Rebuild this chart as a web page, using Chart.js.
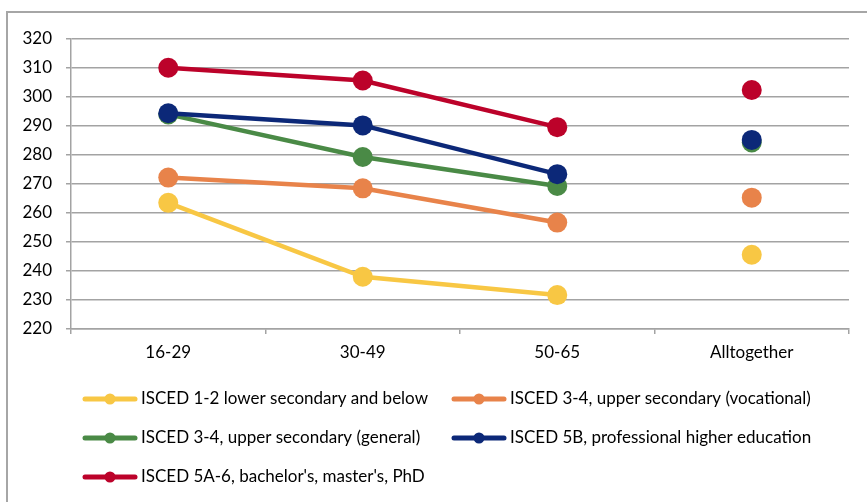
<!DOCTYPE html>
<html>
<head>
<meta charset="utf-8">
<script src="https://cdn.jsdelivr.net/npm/chart.js@4/dist/chart.umd.min.js"></script>
<style>
  html, body { margin: 0; padding: 0; background: #fff; }
  #wrap { position: relative; width: 867px; height: 502px; }
</style>
</head>
<body>
<div id="wrap"><canvas id="c" width="867" height="502"></canvas></div>
<script>
// Age groups and overall
const categories = ['16-29', '30-49', '50-65', 'Alltogether'];

// Scores by education level
const isced12 = [263.5, 238.0, 231.7, 245.6];
const isced34voc = [272.2, 268.5, 256.7, 265.3];
const isced34gen = [294.0, 279.3, 269.3, 284.3];
const isced5b = [294.4, 290.2, 273.4, 285.2];
const isced5a6 = [310.1, 305.7, 289.6, 302.4];

const yTicks = [220, 230, 240, 250, 260, 270, 280, 290, 300, 310, 320];

const seriesLabels = [
  'ISCED 1-2 lower secondary and below',
  'ISCED 3-4, upper secondary (vocational)',
  'ISCED 3-4, upper secondary (general)',
  'ISCED 5B, professional higher education',
  "ISCED 5A-6, bachelor's, master's, PhD"
];
const seriesColors = ['#F8C744', '#E8834A', '#4A8A46', '#0C2878', '#BC022A'];
const seriesValues = [isced12, isced34voc, isced34gen, isced5b, isced5a6];

const FONT = 'Lato, "Open Sans", "Liberation Sans", sans-serif';
const GRID = '#a3a3a3';

const datasets = seriesValues.map((vals, i) => ({
  label: seriesLabels[i],
  data: vals,
  borderColor: seriesColors[i],
  backgroundColor: seriesColors[i],
  pointBackgroundColor: seriesColors[i],
  pointBorderColor: seriesColors[i],
  borderWidth: 4.5,
  pointRadius: 10,
  pointHoverRadius: 10,
  pointBorderWidth: 0,
  tension: 0,
  order: seriesValues.length - i,
  // the overall column is a standalone point, not joined to the age groups
  segment: {
    borderColor: ctx => ctx.p1DataIndex === 3 ? 'rgba(0,0,0,0)' : undefined
  }
}));

// Outer frame around the chart
const framePlugin = {
  id: 'frame',
  beforeDraw(chart) {
    const ctx = chart.ctx;
    ctx.save();
    ctx.strokeStyle = '#a6a6a6';
    ctx.lineWidth = 2;
    ctx.strokeRect(7, 12, 900, 600);
    ctx.restore();
  }
};

// Two-column legend with line-and-marker keys
const legendPlugin = {
  id: 'gridLegend',
  afterDraw(chart) {
    const ctx = chart.ctx;
    const colX = [83, 452];
    const rowY = [399, 438, 477];
    ctx.save();
    ctx.font = '17px ' + FONT;
    ctx.textBaseline = 'middle';
    chart.data.datasets.forEach((ds, i) => {
      const x = colX[i % 2];
      const y = rowY[Math.floor(i / 2)];
      ctx.strokeStyle = ds.borderColor;
      ctx.lineWidth = 5;
      ctx.lineCap = 'round';
      ctx.beginPath();
      ctx.moveTo(x + 2, y);
      ctx.lineTo(x + 52, y);
      ctx.stroke();
      ctx.fillStyle = ds.borderColor;
      ctx.beginPath();
      ctx.arc(x + 27, y, 5.5, 0, Math.PI * 2);
      ctx.fill();
      ctx.fillStyle = '#000';
      ctx.fillText(ds.label, x + 58, y);
    });
    ctx.restore();
  }
};

new Chart(document.getElementById('c'), {
  type: 'line',
  data: { labels: categories, datasets },
  plugins: [framePlugin, legendPlugin],
  options: {
    responsive: false,
    animation: false,
    devicePixelRatio: 1,
    layout: { padding: { left: 0, right: 18, top: 39, bottom: 133 } },
    plugins: {
      legend: { display: false },
      tooltip: { enabled: false },
      title: { display: false }
    },
    scales: {
      x: {
        offset: true,
        afterFit: s => { s.height = 40; },
        grid: {
          drawOnChartArea: false,
          drawTicks: true,
          tickLength: 5,
          color: GRID,
          lineWidth: 1.5,
          offset: true
        },
        border: { color: GRID, width: 1.5 },
        ticks: {
          color: '#000',
          padding: 8,
          font: { family: FONT, size: 17 }
        }
      },
      y: {
        min: 220,
        max: 320,
        afterFit: s => { s.width = 71; },
        afterBuildTicks: s => { s.ticks = yTicks.map(v => ({ value: v })); },
        grid: {
          color: GRID,
          lineWidth: 1.5,
          drawTicks: true,
          tickLength: 5
        },
        border: { color: GRID, width: 1.5 },
        ticks: {
          color: '#000',
          padding: 14,
          font: { family: FONT, size: 17 }
        }
      }
    }
  }
});
</script>
</body>
</html>
